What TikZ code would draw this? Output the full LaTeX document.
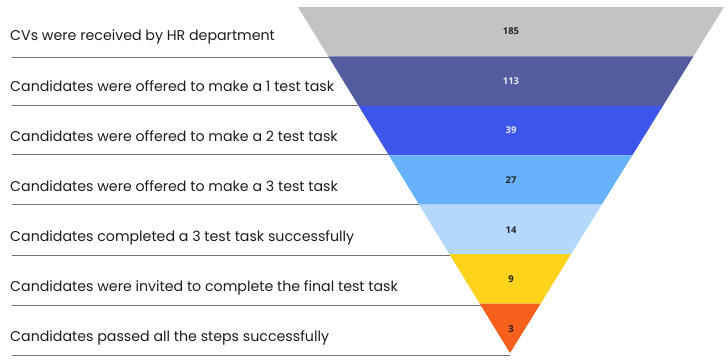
\documentclass[tikz,border=0pt]{standalone}
\usepackage{fontspec}
\setmainfont{Poppins}
\newfontfamily\numfont{Open Sans}
\definecolor{cA}{HTML}{C4C3C4}
\definecolor{cB}{HTML}{535C9E}
\definecolor{cC}{HTML}{3D55E8}
\definecolor{cD}{HTML}{68B2FB}
\definecolor{cE}{HTML}{B3D8FC}
\definecolor{cF}{HTML}{FDD31C}
\definecolor{cG}{HTML}{F8601E}
\definecolor{txt}{HTML}{1E1E1E}
\definecolor{numdark}{HTML}{222222}
\definecolor{numlight}{HTML}{E6E8F2}
\tikzset{
  lbl/.style={anchor=base west, inner sep=0pt, font=\fontsize{14.2}{17}\selectfont, text=txt},
  num/.style={inner sep=0pt, font=\numfont\bfseries\fontsize{9.4}{11}\selectfont},
  rule/.style={draw=black!55, line width=0.6pt}
}
\begin{document}
\begin{tikzpicture}[x=1pt,y=-1pt]
\useasboundingbox (0,0) rectangle (728,362);
% funnel corner coordinates
\coordinate (L0) at (298,7);      \coordinate (R0) at (724,7);
\coordinate (L1) at (328.3,56.4); \coordinate (R1) at (693.4,56.4);
\coordinate (L2) at (358.6,105.9);\coordinate (R2) at (662.9,105.9);
\coordinate (L3) at (388.9,155.3);\coordinate (R3) at (632.3,155.3);
\coordinate (L4) at (419.1,204.7);\coordinate (R4) at (601.7,204.7);
\coordinate (L5) at (449.4,254.1);\coordinate (R5) at (571.1,254.1);
\coordinate (L6) at (479.7,303.6);\coordinate (R6) at (540.6,303.6);
\coordinate (L7) at (510,353);
% bands
\fill[cA] (L0) -- (R0) -- (R1) -- (L1) -- cycle;
\fill[cB] (L1) -- (R1) -- (R2) -- (L2) -- cycle;
\fill[cC] (L2) -- (R2) -- (R3) -- (L3) -- cycle;
\fill[cD] (L3) -- (R3) -- (R4) -- (L4) -- cycle;
\fill[cE] (L4) -- (R4) -- (R5) -- (L5) -- cycle;
\fill[cF] (L5) -- (R5) -- (R6) -- (L6) -- cycle;
\fill[cG] (L6) -- (R6) -- (L7) -- cycle;
% numbers
\node[num, text=numdark]  (n1) at (511,31.5)  {185};
\node[num, text=numlight] (n2) at (511,81.1)  {113};
\node[num, text=numlight] (n3) at (511,130.6) {39};
\node[num, text=numdark]  (n4) at (511,180.5) {27};
\node[num, text=numdark]  (n5) at (511,229.9) {14};
\node[num, text=numdark]  (n6) at (511,279.5) {9};
\node[num, text=numdark]  (n7) at (511,329) {3};
% labels
\node[lbl] (t1) at (10,40.5)  {CVs were received by HR department};
\node[lbl] (t2) at (10,91.5) {Candidates were offered to make a 1 test task};
\node[lbl] (t3) at (10,141.5) {Candidates were offered to make a 2 test task};
\node[lbl] (t4) at (10,191.5) {Candidates were offered to make a 3 test task};
\node[lbl] (t5) at (10,241.5) {Candidates completed a 3 test task successfully};
\node[lbl] (t6) at (10,291.5) {Candidates were invited to complete the final test task};
\node[lbl] (t7) at (10,341.5) {Candidates passed all the steps successfully};
% rules
\coordinate (s1) at (12,57);  \coordinate (e1) at (328.9,57);
\coordinate (s2) at (12,105.5); \coordinate (e2) at (358.3,105.5);
\coordinate (s3) at (12,154.5); \coordinate (e3) at (388.4,154.5);
\coordinate (s4) at (12,204.5); \coordinate (e4) at (419,204.5);
\coordinate (s5) at (12,255);  \coordinate (e5) at (449.9,255);
\coordinate (s6) at (12,305);  \coordinate (e6) at (480.6,305);
\coordinate (s7) at (12,355);  \coordinate (e7) at (510,355);
\foreach \i in {1,...,7} { \draw[rule] (s\i) -- (e\i); }
\end{tikzpicture}
\end{document}
